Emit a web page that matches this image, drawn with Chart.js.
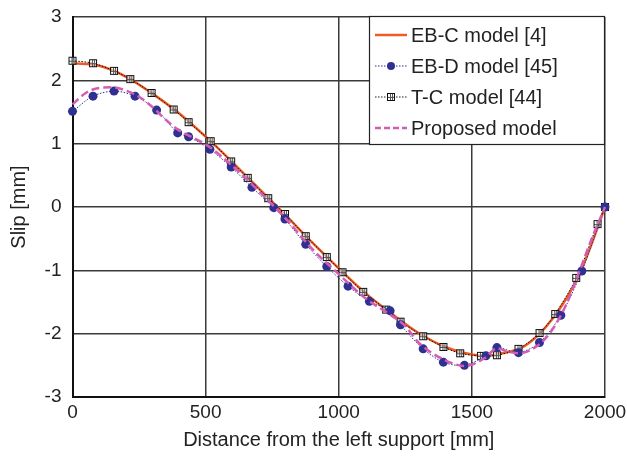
<!DOCTYPE html>
<html>
<head>
<meta charset="utf-8">
<script src="https://cdn.jsdelivr.net/npm/chart.js@4"></script>
<style>
  html, body { margin: 0; padding: 0; background: #fff; }
  #wrap { width: 627px; height: 460px; }
</style>
</head>
<body>
<div id="wrap"><canvas id="myChart" width="627" height="460"></canvas></div>
<script>
// EB-C model [4] (solid line)
const ebcX = [0, 100, 200, 300, 400, 500, 600, 700, 800, 900, 1000, 1100, 1200, 1300, 1400, 1500, 1550, 1600, 1700, 1800, 1900, 1950, 2000]
const ebcY = [2.27, 2.23, 2.06, 1.79, 1.48, 1.11, 0.71, 0.29, -0.13, -0.56, -0.97, -1.36, -1.69, -1.99, -2.21, -2.33, -2.35, -2.32, -2.19, -1.78, -1.10, -0.58, 0]

// EB-D model [45] (dots)
const ebdX = [0, 77, 156, 235, 316, 395, 436, 516, 596, 674, 756, 798, 876, 955, 1035, 1115, 1193, 1232, 1317, 1393, 1472, 1553, 1594, 1675, 1754, 1834, 1913, 2000]
const ebdY = [1.51, 1.75, 1.83, 1.75, 1.53, 1.17, 1.11, 0.91, 0.63, 0.31, -0.01, -0.19, -0.59, -0.94, -1.25, -1.49, -1.64, -1.86, -2.24, -2.45, -2.50, -2.35, -2.22, -2.30, -2.14, -1.71, -1.01, 0]

// T-C model [44] (squares)
const tcX = [0, 77, 156, 217, 297, 380, 436, 519, 596, 658, 735, 798, 876, 955, 1014, 1092, 1178, 1232, 1317, 1393, 1456, 1534, 1594, 1675, 1754, 1813, 1892, 1972, 2000]
const tcY = [2.31, 2.27, 2.15, 2.02, 1.80, 1.54, 1.34, 1.04, 0.72, 0.46, 0.14, -0.11, -0.46, -0.79, -1.03, -1.34, -1.62, -1.81, -2.04, -2.21, -2.31, -2.35, -2.34, -2.24, -1.99, -1.69, -1.12, -0.27, 0]

// Proposed model (dashed)
const propX = [0, 50, 100, 150, 200, 250, 300, 350, 400, 450, 500, 600, 700, 800, 900, 1000, 1100, 1200, 1250, 1300, 1400, 1475, 1550, 1594, 1632, 1675, 1750, 1800, 1850, 1900, 1950, 2000]
const propY = [1.62, 1.80, 1.88, 1.89, 1.84, 1.74, 1.58, 1.38, 1.21, 1.10, 0.99, 0.65, 0.25, -0.18, -0.66, -1.06, -1.44, -1.72, -1.88, -2.14, -2.42, -2.51, -2.38, -2.23, -2.28, -2.31, -2.18, -1.95, -1.58, -1.06, -0.50, 0]

const labels = ['EB-C model [4]', 'EB-D model [45]', 'T-C model [44]', 'Proposed model']
const xTicks = [0, 500, 1000, 1500, 2000]

function pts(xs, ys) {
  return xs.map((x, i) => ({ x: x, y: ys[i] }))
}

// little square marker with lines inside
function makeSquare() {
  const c = document.createElement('canvas')
  c.width = 10; c.height = 10
  const g = c.getContext('2d')
  g.fillStyle = 'rgba(255,255,255,0.6)'
  g.fillRect(1, 1, 8, 8)
  g.strokeStyle = '#111'
  g.lineWidth = 1
  g.strokeRect(1.5, 1.5, 7, 7)
  g.strokeStyle = '#555'
  g.beginPath()
  g.moveTo(4.5, 2); g.lineTo(4.5, 8)
  g.moveTo(6.5, 2); g.lineTo(6.5, 8)
  g.moveTo(2, 5.5); g.lineTo(8, 5.5)
  g.stroke()
  return c
}
const sq = makeSquare()

const orange = '#f15a22'
const blue = '#2e3192'
const magenta = '#d45db4'
const fam = '"Liberation Sans", Arial, sans-serif'

// legend drawn inside the plot like the original
const boxLegend = {
  id: 'boxLegend',
  afterDraw(chart) {
    const ctx = chart.ctx
    const x0 = 369, y0 = 16, w = 235, h = 128
    ctx.save()
    ctx.fillStyle = '#fff'
    ctx.fillRect(x0, y0, w, h)
    ctx.strokeStyle = '#222'
    ctx.lineWidth = 1.2
    ctx.strokeRect(x0 + 0.5, y0 + 0.5, w, h)
    ctx.font = '20px ' + fam
    ctx.textBaseline = 'middle'
    const rows = [35, 66, 97, 128]
    rows.forEach((ry, i) => {
      ctx.beginPath()
      if (i === 0) { ctx.strokeStyle = orange; ctx.lineWidth = 2.5; ctx.setLineDash([]) }
      if (i === 1) { ctx.strokeStyle = blue; ctx.lineWidth = 1; ctx.setLineDash([1.5, 1.5]) }
      if (i === 2) { ctx.strokeStyle = '#222'; ctx.lineWidth = 1; ctx.setLineDash([1.5, 1.5]) }
      if (i === 3) { ctx.strokeStyle = magenta; ctx.lineWidth = 2.5; ctx.setLineDash([6, 3]) }
      ctx.moveTo(375, ry); ctx.lineTo(407, ry)
      ctx.stroke()
      ctx.setLineDash([])
      if (i === 1) {
        ctx.fillStyle = blue
        ctx.beginPath(); ctx.arc(391, ry, 4, 0, Math.PI * 2); ctx.fill()
      }
      if (i === 2) ctx.drawImage(sq, 386, ry - 5)
      ctx.fillStyle = '#222'
      ctx.fillText(labels[i], 411, ry + 1)
    })
    ctx.restore()
  }
}

const data = {
  datasets: [
    {
      label: labels[3], data: pts(propX, propY), borderColor: magenta, borderWidth: 2.5,
      borderDash: [8, 4], pointRadius: 0, tension: 0.4, cubicInterpolationMode: 'monotone', order: 1, clip: 8
    },
    {
      label: labels[1], data: pts(ebdX, ebdY), borderColor: blue, borderWidth: 1,
      borderDash: [1.5, 1.5], pointRadius: 4.5, pointBackgroundColor: blue, pointBorderWidth: 0,
      tension: 0.3, order: 2, clip: 8
    },
    {
      label: labels[2], data: pts(tcX, tcY), borderColor: '#111', borderWidth: 1,
      borderDash: [1.5, 1.5], pointStyle: sq, tension: 0.3, order: 3, clip: 8
    },
    {
      label: labels[0], data: pts(ebcX, ebcY), borderColor: orange, borderWidth: 2.5,
      pointRadius: 0, tension: 0.4, cubicInterpolationMode: 'monotone', order: 4, clip: 8
    }
  ]
}

const tickFont = { family: fam, size: 19 }
const titleFont = { family: fam, size: 20 }

const config = {
  type: 'line',
  data: data,
  options: {
    responsive: false,
    animation: false,
    layout: { padding: { left: 0, right: 22, top: 17, bottom: 0 } },
    plugins: { legend: { display: false }, tooltip: { enabled: false } },
    scales: {
      x: {
        type: 'linear', min: 0, max: 2000,
        afterBuildTicks: (s) => { s.ticks = xTicks.map(v => ({ value: v })) },
        afterFit: (s) => { s.height = 63; s.paddingRight = 0; s.paddingLeft = 0 },
        grid: { color: '#3a3a3a', lineWidth: 1.5, drawTicks: false },
        border: { color: '#111', width: 2 },
        ticks: { font: tickFont, color: '#222', padding: 4, maxRotation: 0, callback: (v) => String(v) },
        title: { display: true, text: 'Distance from the left support [mm]', font: titleFont, color: '#222', padding: { top: 0, bottom: 8 } }
      },
      y: {
        min: -3, max: 3,
        afterFit: (s) => { s.width = 72.5; s.paddingTop = 0; s.paddingBottom = 0 },
        grid: { color: '#3a3a3a', lineWidth: 1.5, drawTicks: false },
        border: { color: '#111', width: 2 },
        ticks: { font: tickFont, color: '#222', padding: 11, stepSize: 1 },
        title: { display: true, text: 'Slip [mm]', font: titleFont, color: '#222', padding: { top: 7, bottom: 0 } }
      }
    }
  },
  plugins: [boxLegend]
}

const myChart = new Chart(document.getElementById('myChart'), config)
</script>
</body>
</html>
